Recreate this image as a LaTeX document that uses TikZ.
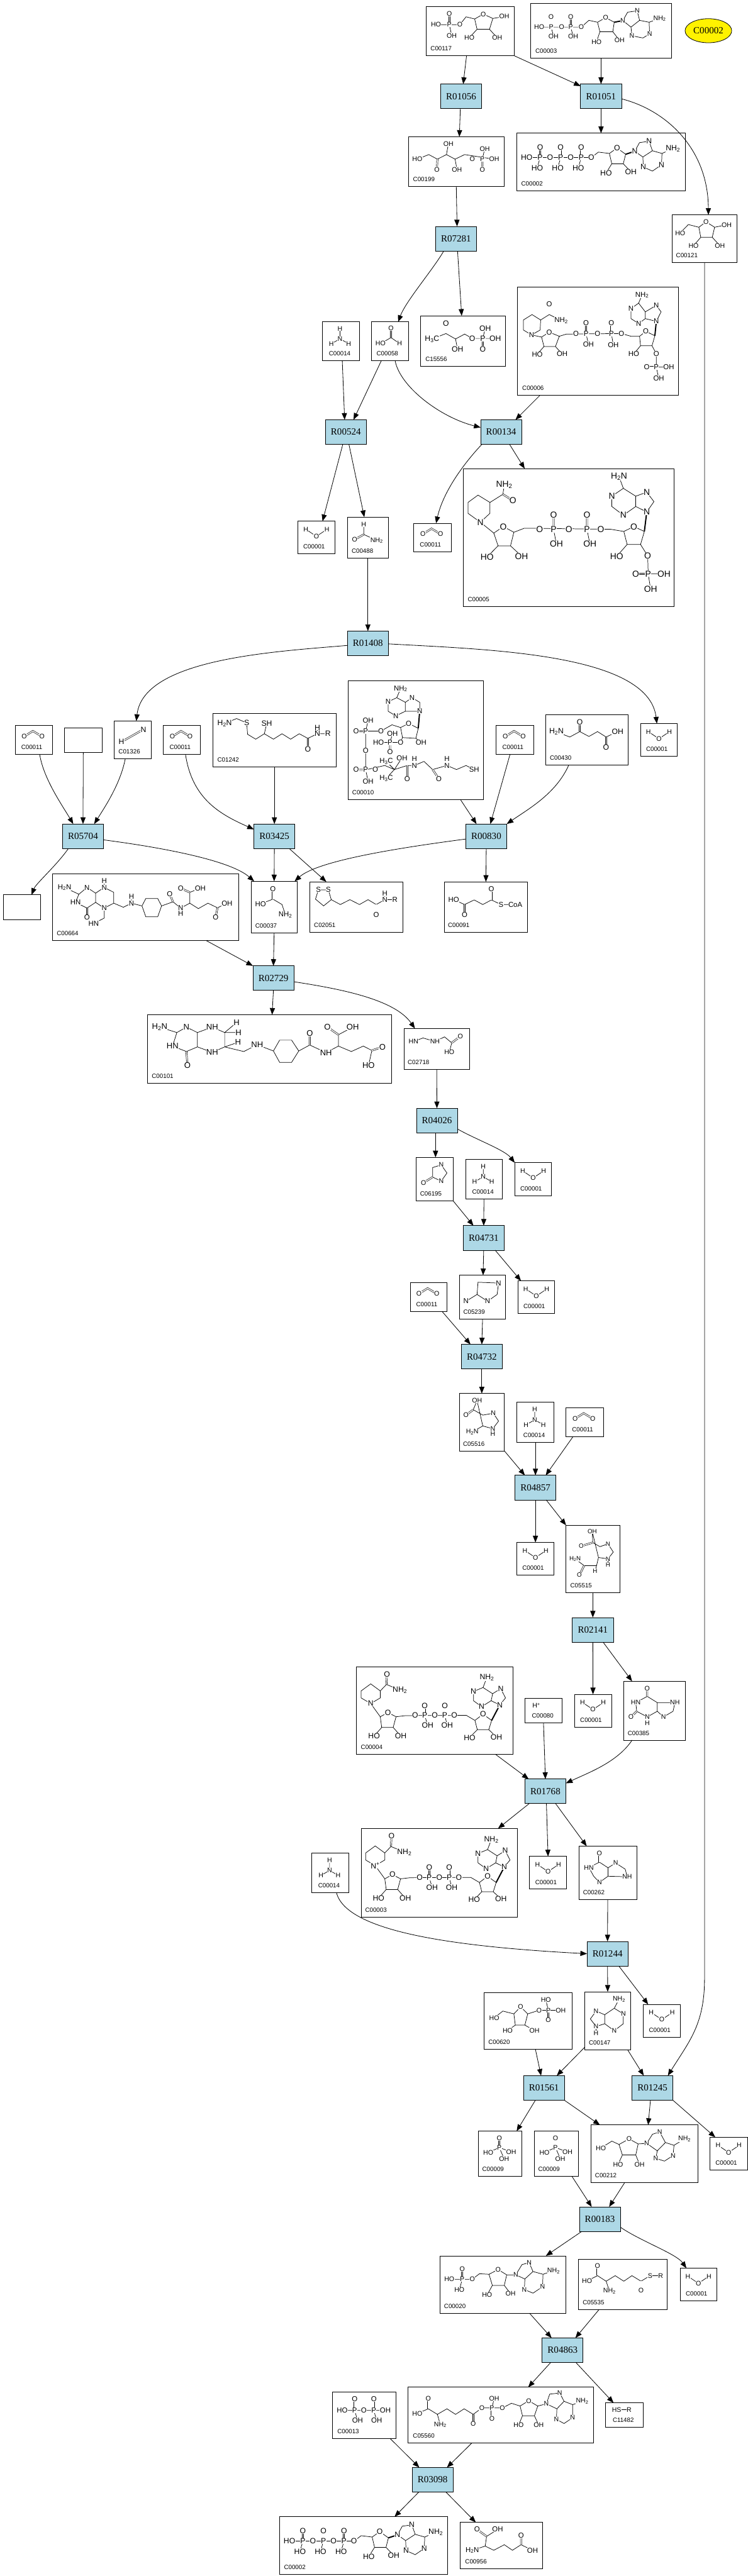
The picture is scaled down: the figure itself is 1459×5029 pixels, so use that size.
\documentclass[tikz,border=0pt]{standalone}
\usepackage{fontspec}
\setmainfont{Liberation Serif}
\setsansfont{Liberation Sans}
\usetikzlibrary{shapes.geometric, arrows.meta, positioning}
\definecolor{lightblue}{HTML}{ADD8E6}
\newcommand{\cid}[4][8.4]{\parbox[b][#3pt][b]{#2pt}{\hspace*{#1pt}\raisebox{9.7pt}{#4}}}
\newcommand{\atoms}[2][13]{\foreach \x/\y/\t [count=\i] in {#2} \node (atom\i) [atom, font=\sffamily\fontsize{#1}{#1}\selectfont] at (\x,\y) {\t};}
\newcommand{\sbs}[1]{\textsubscript{#1}}
\tikzset{
    reaction/.style = {rectangle, draw, fill=lightblue, line width=1pt, minimum width=80pt, minimum height=48pt, inner sep=0pt, outer sep=0pt, font=\rmfamily\fontsize{18.5}{20}\selectfont},
    compound/.style = {rectangle, draw, line width=1pt, inner sep=0pt, outer sep=0pt, font=\sffamily\fontsize{12}{14}\selectfont},
    query/.style = {ellipse, draw, fill=yellow, line width=1pt, minimum width=91pt, minimum height=47pt, inner sep=0pt, outer sep=0pt, font=\rmfamily\fontsize{18.5}{20}\selectfont},
    arrow/.style = {line width=1pt, ->, >={Triangle[length=13pt,width=10pt]}},
    atom/.style = {fill=white, inner sep=.5pt},
    bond/.style = {line width=.9pt},
    dbl/.style = {double, double distance=1.8pt, line width=.8pt},
    wedge/.style = {line width=2.4pt},
    panel/.style 2 args = {shift={(0,#1)}, x=.9329pt, y=-#2pt},
    centred/.style 2 args = {x=.9329pt, y=-.5294pt, shift={(-#1,-#2)}},
    watermol/.pic = {\begin{scope}[centred={662}{414.5}]
        \draw [bond] (640,384) -- (662,410) -- (684,384);
        \atoms{640/384/H, 662/410/O, 684/384/H}
    \end{scope}},
    co2mol/.pic = {\begin{scope}[centred={905}{415}]
        \draw [dbl] (885,402) -- (903,382) -- (922,402);
        \atoms{885/402/O, 922/402/O}
    \end{scope}},
    nh3mol/.pic = {\begin{scope}[centred={712.5}{1258.5}]
        \draw [bond] (711,1212) -- (711,1250) (693,1268) -- (711,1250) -- (729,1268);
        \atoms{711/1212/H, 711/1250/N, 693/1268/H, 729/1268/H}
    \end{scope}},
    phosmol/.pic = {\begin{scope}[x=.9329pt, y=-.5415pt, shift={(-1047,-44)}]
        \draw [dbl] (1045,-11) -- (1045,22);
        \draw [bond] (1022,40) -- (1045,22) -- (1070,38) (1045,22) -- (1055,62);
        \atoms{1045/-11/O, 1045/22/P, 1022/40/HO, 1070/38/OH, 1055/62/OH}
    \end{scope}},
    atpmol/.pic = {\begin{scope}[centred={1257.5}{596}]
        \draw [bond] (1102,580) -- (1237,580) -- (1252,560) -- (1275,565) -- (1291,545) -- (1309,568) -- (1304,603) -- (1280,603) -- (1275,565);
        \draw [bond] (1130,580) -- (1124,618) (1173,580) -- (1167,618) (1216,580) -- (1210,618) (1280,603) -- (1268,637) (1304,603) -- (1320,633);
        \draw [dbl] (1130,543) -- (1130,580) (1173,543) -- (1173,580) (1216,543) -- (1216,580);
        \draw [wedge] (1309,568) -- (1328,557);
        \draw [bond] (1328,557) -- (1338,525) -- (1358,520) -- (1365,555) -- (1345,578) -- (1328,557) (1345,578) -- (1346,615) -- (1365,630) -- (1384,607) -- (1385,565) -- (1365,555) (1385,565) -- (1408,547);
        \atoms[15]{1102/580/HO, 1130/580/P, 1151/580/O, 1173/580/P, 1194/580/O, 1216/580/P, 1237/580/O, 1130/543/O, 1173/543/O, 1216/543/O, 1124/618/HO, 1167/618/HO, 1210/618/HO, 1291/545/O, 1268/637/HO, 1320/633/OH, 1328/557/N, 1358/520/N, 1346/615/N, 1384/607/N, 1408/547/NH\sbs{2}}
    \end{scope}},
    nadmol/.pic = {\begin{scope}[x=.9329pt, y=-.5485pt, shift={(-919,-610.5)}]
        \draw [bond] (785,515) -- (805,540) -- (805,565) -- (785,585) -- (765,565) -- (765,540) -- cycle (805,540) -- (818,517) -- (846,537);
        \draw [dbl] (818,517) -- (819,480);
        \draw [bond] (785,585) -- (805,632) -- (821,617) -- (838,632) -- (832,670) -- (808,670) -- (805,632) (808,670) -- (792,701) (832,670) -- (848,701);
        \draw [bond] (838,632) -- (858,628) -- (985,627) -- (1003,645) -- (1020,623) -- (1038,645) -- (1032,678) -- (1008,678) -- (1003,645) (1008,678) -- (992,706) (1032,678) -- (1048,704);
        \draw [bond] (898,627) -- (904,662) (940,627) -- (945,662);
        \draw [dbl] (898,592) -- (898,627) (940,592) -- (940,627);
        \draw [wedge] (1038,645) -- (1055,590);
        \draw [bond] (1055,590) -- (1037,575) -- (1017,596) -- (1000,575) -- (1000,542) -- (1020,528) -- (1040,550) -- (1037,575) (1040,550) -- (1057,532) -- (1067,565) -- (1055,590) (1020,528) -- (1028,492);
        \atoms[15]{846/537/NH\sbs{2}, 819/480/O, 785/585/#1, 821/617/O, 792/701/HO, 848/701/OH, 878/627/O, 898/627/P, 898/592/O, 904/662/OH, 919/627/O, 940/627/P, 940/592/O, 945/662/OH, 960/627/O, 1020/623/O, 992/706/HO, 1048/704/OH, 1055/590/N, 1017/596/N, 1000/542/N, 1057/532/N, 1028/492/NH\sbs{2}}
    \end{scope}}
}
\begin{document}
\begin{tikzpicture}[x=1pt, y=-1pt, node distance=100pt]
\useasboundingbox (0,0) rectangle (1459,5029);
% reactions and compounds
\node (c00117) [compound] at (918,61) {\cid{172}{96}{C00117}};
\node (c00003a) [compound, right of=c00117, xshift=155, yshift=1] {\cid[10]{276}{106}{C00003}};
\node (c00002y) [query, right of=c00003a, xshift=109.5] {C00002};
\node (r01056) [reaction, below of=c00117, xshift=-18, yshift=-27] {R01056};
\node (r01051) [reaction, right of=r01056, xshift=173] {R01051};
\node (c00199) [compound, below of=r01056, xshift=-9.5, yshift=-27.5] {\cid[9.3]{187}{97}{C00199}};
\node (c00002a) [compound, below of=r01051, yshift=-28] {\cid[9.3]{330}{112}{C00002}};
\node (r07281) [reaction, below of=c00199, xshift=-.5, yshift=-50.5] {R07281};
\node (c00121) [compound, right of=r07281, xshift=385] {\cid[7.5]{126}{93}{C00121}};
\node (c15556) [compound, below of=r07281, xshift=14, yshift=-100] {\cid[9.3]{166}{99}{C15556}};
\node (c00058) [compound, left of=c15556, xshift=-43] {\cid[10]{72}{75}{C00058}};
\node (c00014a) [compound, left of=c00058, xshift=4] {\cid[13]{72}{77}{C00014}};
\node (c00006) [compound, right of=c15556, xshift=163] {\cid[9.3]{314}{211}{C00006}};
\node (r00524) [reaction, below of=c00014a, xshift=10, yshift=-77.5] {R00524};
\node (r00134) [reaction, right of=r00524, xshift=203] {R00134};
\node (c00001a) [compound, below of=r00524, xshift=-57.5, yshift=-106] {\cid[11]{73}{64}{C00001}};
\node (c00488) [compound, right of=c00001a, xshift=.5] {\cid{80}{80}{C00488}};
\node (c00011a) [compound, right of=c00488, xshift=26] {\cid[12]{73}{56}{C00011}};
\node (c00005) [compound, right of=c00011a, xshift=166] {\cid{411}{269}{C00005}};
\node (r01408) [reaction, below of=c00488, yshift=-106.5] {R01408};
\node (c00010) [compound, below of=r01408, xshift=94, yshift=-88.6] {\cid[7.5]{264}{232}{C00010}};
\node (c01242) [compound, left of=c00010, xshift=-176.5] {\cid[9.3]{241}{104}{C01242}};
\node (c00011b) [compound, left of=c01242, xshift=-80.5] {\cid[12]{72}{56}{C00011}};
\node (c01326) [compound, left of=c00011b, xshift=4] {\cid{72}{74}{C01326}};
\node (blanka) [compound, left of=c01326, xshift=3.5] {\cid{73}{48}{}};
\node (c00011c) [compound, left of=blanka, xshift=3.5] {\cid[12]{73}{56}{C00011}};
\node (c00011d) [compound, right of=c00010, xshift=93] {\cid[12]{73}{56}{C00011}};
\node (c00430) [compound, right of=c00011d, xshift=40] {\cid{160.5}{98}{C00430}};
\node (c00001b) [compound, right of=c00430, xshift=41] {\cid[11]{72}{64}{C00001}};
\node (r05704) [reaction, below of=blanka, xshift=-.5, yshift=-88] {R05704};
\node (r03425) [reaction, below of=c01242, yshift=-88] {R03425};
\node (r00830) [reaction, right of=r03425, xshift=313.5] {R00830};
\node (c00037) [compound, below of=r03425, xshift=-.5, yshift=-38.4] {\cid{90}{101}{C00037}};
\node (c00664) [compound, left of=c00037, xshift=-151] {\cid{363}{131}{C00664}};
\node (blankb) [compound, left of=c00664, xshift=-141] {\cid{73}{48}{}};
\node (c02051) [compound, right of=c00037, xshift=60.5] {\cid{182}{99}{C02051}};
\node (c00091) [compound, right of=c02051, xshift=152.8] {\cid[7.5]{163}{99}{C00091}};
\node (r02729) [reaction, below of=c00037, xshift=-1.4, yshift=-38.6] {R02729};
\node (c00101) [compound, below of=r02729, xshift=-7.6, yshift=-38.4] {\cid{476}{134}{C00101}};
\node (c02718) [compound, right of=c00101, xshift=226.3] {\cid[7.5]{128}{80}{C02718}};
\node (r04026) [reaction, below of=c02718, xshift=.4, yshift=-39.5] {R04026};
\node (c00014b) [compound, below of=r04026, xshift=91.8, yshift=-14.5] {\cid[13]{72}{77}{C00014}};
\node (c06195) [compound, left of=c00014b, xshift=4] {\cid[7.5]{72}{85}{C06195}};
\node (c00001c) [compound, right of=c00014b, xshift=-3.9] {\cid[11]{72}{64}{C00001}};
\node (r04731) [reaction, below of=c00014b, xshift=-.5, yshift=-14.8] {R04731};
\node (c05239) [compound, below of=r04731, xshift=-2.2, yshift=-15.7] {\cid[7.5]{90}{86}{C05239}};
\node (c00011e) [compound, left of=c05239, xshift=-5.4] {\cid[12]{72}{56}{C00011}};
\node (c00001d) [compound, right of=c05239, xshift=4.9] {\cid[11]{72}{64}{C00001}};
\node (r04732) [reaction, below of=c05239, xshift=-1.5, yshift=-16.1] {R04732};
\node (c05516) [compound, below of=r04732, yshift=-27.8] {\cid[7.5]{88}{112}{C05516}};
\node (c00014c) [compound, right of=c05516, xshift=4.7] {\cid[13]{73}{78}{C00014}};
\node (c00011f) [compound, right of=c00014c, xshift=-4] {\cid[12]{73}{56}{C00011}};
\node (r04857) [reaction, below of=c00014c, yshift=-27.8] {R04857};
\node (c00001e) [compound, below of=r04857, yshift=-39] {\cid[11]{73}{64}{C00001}};
\node (c05515) [compound, right of=c00001e, xshift=12] {\cid{104.5}{131}{C05515}};
\node (r02141) [reaction, below of=c05515, yshift=-38.6] {R02141};
\node (c00001f) [compound, below of=r02141, xshift=.3, yshift=-57.9] {\cid[11]{72}{64}{C00001}};
\node (c00080) [compound, left of=c00001f, xshift=3.4] {\cid[14]{73}{48}{C00080}};
\node (c00004) [compound, left of=c00080, xshift=-112.2] {\cid{305}{171}{C00004}};
\node (c00385) [compound, right of=c00001f, xshift=20.3] {\cid[7.5]{120}{115}{C00385}};
\node (r01768) [reaction, below of=c00080, xshift=3.7, yshift=-57.4] {R01768};
\node (c00001g) [compound, below of=r01768, xshift=5.2, yshift=-59] {\cid[11]{72}{64}{C00001}};
\node (c00003b) [compound, left of=c00001g, xshift=-112.3] {\cid[7.5]{304}{173}{C00003}};
\node (c00014d) [compound, left of=c00003b, xshift=-112.7] {\cid[13]{73}{77}{C00014}};
\node (c00262) [compound, right of=c00001g, xshift=16.4] {\cid{113}{104}{C00262}};
\node (r01244) [reaction, below of=c00262, xshift=-.3, yshift=-58] {R01244};
\node (c00147) [compound, below of=r01244, xshift=.3, yshift=-31] {\cid{90}{113.5}{C00147}};
\node (c00620) [compound, left of=c00147, xshift=-55.2] {\cid{172}{110}{C00620}};
\node (c00001h) [compound, right of=c00147, xshift=5.6] {\cid[11]{72}{64}{C00001}};
\node (r01561) [reaction, below of=c00620, xshift=30.8, yshift=-31.1] {R01561};
\node (r01245) [reaction, right of=r01561, xshift=111.8] {R01245};
\node (c00009b) [compound, below of=r01561, xshift=24.4, yshift=-28.2] {\cid[7.5]{86}{88}{C00009}};
\node (c00009a) [compound, left of=c00009b, xshift=-9.7] {\cid[7.5]{85}{88}{C00009}};
\node (c00212) [compound, right of=c00009b, xshift=71.5] {\cid{209}{112}{C00212}};
\node (c00001i) [compound, right of=c00212, xshift=64.5] {\cid[11]{73}{64}{C00001}};
\node (r00183) [reaction, below of=c00009b, xshift=84.8, yshift=-27.9] {R00183};
\node (c05535) [compound, below of=r00183, xshift=44.8, yshift=-27.6] {\cid{173.5}{99}{C05535}};
\node (c00020) [compound, left of=c05535, xshift=-134.2] {\cid{246}{112}{C00020}};
\node (c00001j) [compound, right of=c05535, xshift=47.4] {\cid[11]{71}{64}{C00001}};
\node (r04863) [reaction, below of=c05535, xshift=-117.6, yshift=-28.3] {R04863};
\node (c05560) [compound, below of=r04863, xshift=-120.8, yshift=-26.7] {\cid[9.3]{361}{109}{C05560}};
\node (c00013) [compound, left of=c05560, xshift=-165.9] {\cid[9.3]{124}{91}{C00013}};
\node (c11482) [compound, right of=c05560, xshift=141.2] {\cid[14]{73}{48}{C11482}};
\node (r03098) [reaction, below of=c05560, xshift=-132.9, yshift=-26.2] {R03098};
\node (c00002b) [compound, below of=r03098, xshift=-134.3, yshift=-28.2] {\cid{328}{112}{C00002}};
\node (c00956) [compound, right of=c00002b, xshift=168.6] {\cid[9.3]{160}{90}{C00956}};

% structures that come back
\foreach \spot in {c00001a,c00001b,c00001c,c00001d,c00001e,c00001f,c00001g,c00001h,c00001i,c00001j}
    \pic at (\spot) {watermol};
\foreach \spot in {c00011a,c00011b,c00011c,c00011d,c00011e,c00011f}
    \pic at (\spot) {co2mol};
\foreach \spot in {c00014a,c00014b,c00014c,c00014d}
    \pic at (\spot) {nh3mol};
\foreach \spot in {c00009a,c00009b}
    \pic at (\spot) {phosmol};
\foreach \spot in {c00002a,c00002b}
    \pic at (\spot) {atpmol};
\pic at (c00003b) {nadmol={N\textsuperscript{+}}};
\pic at (c00004) {nadmol={N}};

% top part
\begin{scope}[panel={0}{.5294}]
\draw [bond] (912,91) -- (962,91) -- (975,62) -- (993,70) -- (1011,52) -- (1031,68) -- (1024,108) -- (998,108) -- (993,70) (940,91) -- (945,131) (1031,68) -- (1055,61) (998,108) -- (982,139) (1024,108) -- (1040,139);
\draw [dbl] (940,51) -- (940,91);
\atoms{940/51/O, 912/91/HO, 940/91/P, 962/91/O, 945/131/OH, 1011/52/O, 1055/61/OH, 982/139/HO, 1040/139/OH}
\draw [bond] (1128,100) -- (1216,100) -- (1232,75) -- (1250,82) -- (1267,65) -- (1285,82) -- (1282,117) -- (1255,117) -- (1250,82) (1153,100) -- (1158,134) (1194,100) -- (1199,134) (1255,117) -- (1248,154) (1282,117) -- (1296,149);
\draw [dbl] (1153,62) -- (1153,100) (1194,62) -- (1194,100);
\draw [wedge] (1285,82) -- (1303,76);
\draw [bond] (1303,76) -- (1313,45) -- (1333,40) -- (1338,75) -- (1320,100) -- (1303,76) (1320,100) -- (1322,132) -- (1345,140) -- (1359,125) -- (1358,82) -- (1338,75) (1358,82) -- (1380,68);
\atoms{1128/100/HO, 1153/100/P, 1175/100/O, 1194/100/P, 1216/100/O, 1153/62/O, 1194/62/O, 1158/134/OH, 1199/134/OH, 1267/65/O, 1248/154/HO, 1296/149/OH, 1303/76/N, 1333/40/N, 1322/132/N, 1359/125/N, 1380/68/NH\sbs{2}}
\draw [bond] (873,587) -- (897,570) -- (915,587) -- (934,570) -- (952,587) -- (972,570) -- (1034,587) (1009,587) -- (1014,549) (934,570) -- (938,530) (952,587) -- (956,625);
\draw [dbl] (915,587) -- (914,625) (1009,587) -- (1009,625);
\atoms{873/587/HO, 914/625/O, 938/530/OH, 956/625/OH, 988/587/O, 1009/587/P, 1034/587/OH, 1014/549/OH, 1009/625/O}
\draw [bond] (1423,859) -- (1440,828) -- (1462,838) -- (1477,818) -- (1495,838) -- (1490,875) -- (1466,875) -- (1462,838) (1495,838) -- (1520,829) (1466,875) -- (1451,906) (1490,875) -- (1506,906);
\atoms{1477/818/O, 1520/829/OH, 1423/859/HO, 1451/906/HO, 1506/906/OH}
\draw [bond] (796,1267) -- (818,1245) -- (836,1267);
\draw [dbl] (818,1211) -- (818,1245);
\atoms{818/1211/O, 796/1267/HO, 836/1267/H}
\draw [bond] (904,1250) -- (933,1230) -- (953,1250) -- (972,1232) -- (988,1248) -- (1036,1248) (953,1250) -- (957,1287) (1010,1248) -- (1015,1212);
\draw [dbl] (933,1192) -- (933,1230) (1010,1248) -- (1010,1287);
\atoms[15]{904/1250/H\sbs{3}C, 933/1192/O, 957/1287/OH, 988/1248/O, 1010/1248/P, 1036/1248/OH, 1015/1212/OH, 1010/1287/O}
\draw [bond] (1113,1160) -- (1131,1180) -- (1130,1217) -- (1112,1235) -- (1095,1217) -- (1095,1180) -- cycle (1131,1180) -- (1149,1160) -- (1174,1182);
\draw [dbl] (1149,1122) -- (1149,1160) (1226,1192) -- (1226,1230) (1279,1192) -- (1279,1230) (1353,1354) -- (1373,1354);
\draw [bond] (1112,1235) -- (1133,1243) -- (1149,1225) -- (1170,1240) -- (1162,1278) -- (1138,1278) -- (1133,1243) (1138,1278) -- (1124,1306) (1162,1278) -- (1176,1305) (1170,1240) -- (1185,1232) -- (1300,1230) -- (1320,1240) -- (1338,1240) -- (1351,1222) -- (1370,1238) -- (1364,1275) -- (1340,1275) -- (1338,1240) (1340,1275) -- (1326,1305) (1364,1275) -- (1373,1305) -- (1373,1354) -- (1399,1354) (1373,1354) -- (1378,1395) (1226,1230) -- (1231,1270) (1279,1230) -- (1283,1272);
\draw [wedge] (1370,1238) -- (1373,1185);
\draw [bond] (1373,1185) -- (1383,1150) -- (1373,1126) -- (1350,1150) -- (1350,1175) -- (1373,1185) (1350,1175) -- (1336,1193) -- (1320,1175) -- (1320,1138) -- (1336,1118) -- (1350,1150) (1336,1118) -- (1343,1088);
\atoms[14]{1149/1122/O, 1174/1182/NH\sbs{2}, 1112/1235/N, 1149/1225/O, 1124/1306/HO, 1176/1305/OH, 1205/1230/O, 1226/1230/P, 1226/1192/O, 1231/1270/OH, 1250/1230/O, 1279/1230/P, 1279/1192/O, 1283/1272/OH, 1300/1230/O, 1351/1222/O, 1326/1305/HO, 1373/1305/O, 1373/1354/P, 1353/1354/O, 1399/1354/OH, 1378/1395/OH, 1373/1185/N, 1373/1126/N, 1336/1193/N, 1320/1138/N, 1343/1088/NH\sbs{2}}
\end{scope}

% second part
\begin{scope}[panel={830}{.5294}]
\draw [bond] (761,367) -- (761,403) -- (788,425);
\draw [dbl] (761,403) -- (742,422);
\atoms{761/367/H, 742/422/O, 788/425/NH\sbs{2}}
\draw [bond] (979,285) -- (1000,258) -- (1025,285) -- (1025,325) -- (1005,358) -- (979,325) -- cycle (1025,285) -- (1052,255) -- (1055,220);
\draw [dbl] (1052,255) -- (1073,278) (1158,332) -- (1158,384) (1228,332) -- (1228,384);
\draw [bond] (1005,358) -- (1033,398) -- (1053,374) -- (1075,395) -- (1068,445) -- (1042,445) -- (1033,398) (1042,445) -- (1019,486) (1068,445) -- (1091,483) (1075,395) -- (1097,380) -- (1278,384) -- (1305,392) -- (1326,374) -- (1348,392) -- (1340,440) -- (1312,440) -- (1305,392) (1312,440) -- (1290,484) (1340,440) -- (1355,482) -- (1356,548) -- (1389,548) (1356,548) -- (1361,604) (1158,384) -- (1164,438) (1228,384) -- (1234,438);
\draw [dbl] (1330,548) -- (1356,548);
\draw [wedge] (1348,392) -- (1353,320);
\draw [bond] (1353,320) -- (1330,300) -- (1304,332) -- (1280,300) -- (1280,262) -- (1304,233) -- (1330,262) -- (1330,300) (1330,262) -- (1353,247) -- (1368,282) -- (1353,320) (1304,233) -- (1295,190);
\atoms[17]{1055/220/NH\sbs{2}, 1073/278/O, 1005/358/N, 1053/374/O, 1019/486/HO, 1091/483/OH, 1129/384/O, 1158/384/P, 1158/332/O, 1164/438/OH, 1190/384/O, 1228/384/P, 1228/332/O, 1234/438/OH, 1257/384/O, 1326/374/O, 1290/484/HO, 1355/482/O, 1356/548/P, 1330/548/O, 1389/548/OH, 1361/604/OH, 1353/320/N, 1304/332/N, 1280/262/N, 1353/247/N, 1295/190/H\sbs{2}N}
\draw [dbl] (254,1168) -- (300,1122);
\atoms[15]{254/1168/H, 300/1122/N}
\draw [bond] (470,1100) -- (495,1082) -- (516,1098) -- (518,1140) -- (535,1158) -- (553,1138) -- (572,1158) -- (590,1138) -- (608,1158) -- (626,1138) -- (644,1155) -- (664,1138) -- (686,1138) (553,1138) -- (558,1100) (664,1138) -- (664,1115);
\draw [dbl] (644,1155) -- (644,1194);
\atoms[15]{470/1100/H\sbs{2}N, 516/1098/S, 558/1100/SH, 644/1194/O, 664/1138/N, 664/1115/H, 686/1138/R}
\draw [bond] (838,972) -- (830,1005) -- (812,1020) -- (812,1055) -- (828,1072) -- (848,1055) -- (848,1022) -- (830,1005) (848,1022) -- (862,1005) -- (878,1022) -- (878,1055) -- (848,1055);
\draw [wedge] (878,1055) -- (875,1118);
\draw [bond] (875,1118) -- (855,1100) -- (838,1115) -- (842,1152) -- (870,1155) -- (875,1118) (870,1155) -- (881,1170) (842,1152) -- (838,1170) -- (792,1170) (816,1170) -- (821,1138) (838,1115) -- (820,1105) -- (797,1128) -- (765,1128) -- (770,1090) (765,1128) -- (765,1271) -- (770,1313) (765,1271) -- (805,1255) -- (825,1270) -- (841,1227) (825,1270) -- (808,1240) (825,1270) -- (808,1302) (825,1270) -- (852,1255) -- (867,1255) -- (887,1240) -- (905,1270) -- (935,1255) -- (955,1270) -- (975,1255) -- (992,1271);
\draw [dbl] (745,1128) -- (765,1128) (745,1271) -- (765,1271) (816,1170) -- (816,1204) (852,1255) -- (852,1304) (918,1304) -- (905,1270);
\atoms[14]{838/972/NH\sbs{2}, 812/1020/N, 862/1005/N, 828/1072/N, 878/1055/N, 855/1100/O, 797/1128/O, 765/1128/P, 745/1128/O, 770/1090/OH, 765/1200/O, 765/1271/P, 745/1271/O, 770/1313/OH, 785/1271/O, 808/1240/H\sbs{3}C, 808/1302/H\sbs{3}C, 841/1227/OH, 852/1304/O, 867/1255/N, 867/1230/H, 918/1304/O, 935/1255/N, 935/1230/H, 992/1271/SH, 821/1138/OH, 792/1170/HO, 816/1170/P, 838/1170/O, 816/1204/O, 881/1170/OH}
\draw [bond] (1164,1131) -- (1192,1150) -- (1213,1130) -- (1232,1148) -- (1250,1130) -- (1268,1150) -- (1292,1130);
\draw [dbl] (1213,1095) -- (1213,1130) (1268,1150) -- (1268,1188);
\atoms[15]{1164/1131/H\sbs{2}N, 1213/1095/O, 1292/1130/OH, 1268/1188/O}
\end{scope}

% third part
\begin{scope}[panel={1660}{.5294}]
\draw [bond] (135,137) -- (165,162) -- (182,137) -- (200,158) -- (218,137) -- (238,155) -- (238,195) -- (218,213) -- (200,192) -- (200,158) (218,137) -- (218,112) (165,162) -- (158,192) -- (182,213) -- (200,192) (218,213) -- (218,250) -- (196,270) (238,195) -- (258,210) -- (275,195) -- (297,205) (275,195) -- (275,170);
\draw [dbl] (182,213) -- (182,248);
\draw [bond] (297,205) -- (305,178) -- (330,178) -- (338,205) -- (330,245) -- (305,245) -- cycle (338,205) -- (362,190) -- (378,213) -- (397,195) -- (397,155) -- (419,140) (378,213) -- (378,233) (397,195) -- (415,215) -- (435,195) -- (455,212) -- (475,195);
\draw [dbl] (355,162) -- (362,190) (378,140) -- (397,155) (455,212) -- (451,248);
\atoms[14]{135/137/H\sbs{2}N, 182/137/N, 158/192/HN, 182/248/O, 218/137/N, 218/112/H, 218/213/N, 196/270/HN, 275/195/N, 275/170/H, 355/162/O, 378/213/N, 378/233/H, 378/140/O, 419/140/OH, 451/248/O, 475/195/OH}
\draw [bond] (545,198) -- (571,180) -- (590,200) -- (597,238);
\draw [dbl] (571,142) -- (571,180);
\atoms[14]{571/142/O, 545/198/HO, 597/238/NH\sbs{2}}
\draw [bond] (666,146) -- (687,146) -- (693,182) -- (677,205) -- (660,180) -- cycle (693,182) -- (712,200) -- (732,182) -- (752,200) -- (770,182) -- (787,200) -- (805,182) -- (826,182) (805,182) -- (805,158);
\draw [dbl] (787,200) -- (787,238);
\atoms[14]{666/146/S, 687/146/S, 787/238/O, 805/182/N, 805/158/H, 826/182/R}
\draw [bond] (949,182) -- (972,200) -- (992,183) -- (1010,200) -- (1028,183) -- (1048,200) -- (1078,200);
\draw [dbl] (972,200) -- (972,238) (1028,143) -- (1028,183);
\atoms[14]{949/182/HO, 972/238/O, 1028/143/O, 1048/200/S, 1078/200/CoA}
\draw [bond] (334,652) -- (370,672) -- (390,652) -- (413,672) -- (444,652) -- (470,672) -- (470,725) -- (444,745) -- (413,725) -- (413,672) (370,672) -- (361,722) -- (390,742) -- (413,725) (470,672) -- (495,635) (470,672) -- (499,672) (470,725) -- (498,708) (470,725) -- (510,742) -- (538,717) -- (572,740);
\draw [dbl] (390,742) -- (392,792);
\draw [bond] (572,740) -- (585,700) -- (610,700) -- (625,740) -- (610,782) -- (585,782) -- cycle (625,740) -- (648,718) -- (682,746) -- (708,722) -- (708,680) -- (738,652) (708,722) -- (735,742) -- (760,722) -- (778,738) -- (771,793);
\draw [dbl] (648,675) -- (648,718) (685,652) -- (708,680) (778,738) -- (800,725);
\atoms[16]{334/652/H\sbs{2}N, 390/652/N, 361/722/HN, 392/792/O, 444/745/NH, 444/652/NH, 495/635/H, 499/672/H, 498/708/H, 538/717/NH, 648/675/O, 682/746/NH, 685/652/O, 738/652/OH, 800/725/O, 771/793/HO}
\draw [bond] (865,705) -- (885,692) -- (910,705) -- (930,688) -- (945,710) -- (940,745);
\draw [dbl] (945,710) -- (963,686);
\atoms{865/705/HN, 910/705/NH, 963/686/O, 940/745/HO}
\draw [bond] (923,1160) -- (905,1170) -- (905,1205) -- (923,1220) -- (935,1190) -- cycle;
\draw [dbl] (905,1205) -- (886,1226);
\atoms{923/1160/N, 886/1226/O, 923/1220/N}
\end{scope}

% fourth part
\begin{scope}[panel={2490}{.5294}]
\draw [bond] (1000,25) -- (1043,28) -- (1040,70) -- (1020,95) -- (998,70) -- cycle (998,70) -- (975,95);
\atoms[14]{1043/28/N, 1020/95/N, 975/95/N}
\draw [bond] (998,462) -- (990,495) -- (1010,515) -- (1032,508) -- (1043,537) -- (1031,565) -- (1010,555) -- cycle (1010,555) -- (988,577);
\draw [dbl] (990,495) -- (975,515);
\atoms{998/462/OH, 975/515/O, 1032/508/N, 1031/565/N, 1031/585/H, 988/577/H\sbs{2}N}
\draw [bond] (1239,945) -- (1240,985) -- (1255,1000) -- (1272,990) -- (1283,1020) -- (1272,1045) -- (1252,1040) -- cycle (1252,1040) -- (1248,1070) -- (1222,1070) -- (1203,1045) (1248,1070) -- (1245,1090) (1272,1045) -- (1272,1068);
\draw [dbl] (1240,985) -- (1216,998) (1222,1070) -- (1212,1105);
\atoms[12]{1239/945/OH, 1216/998/O, 1272/990/N, 1272/1045/N, 1272/1068/H, 1245/1090/H, 1203/1045/H\sbs{2}N, 1212/1105/O}
\end{scope}

% fifth part
\begin{scope}[panel={3320}{.5485}]
\node (hplus) [atom, font=\sffamily\fontsize{13}{13}\selectfont] at (1122,17) {H\textsuperscript{+}};
\draw [bond] (1354,-15) -- (1330,7) -- (1332,38) -- (1354,58) -- (1375,38) -- (1375,7) -- cycle (1375,7) -- (1412,7) -- (1408,38) -- (1388,58) -- (1375,38);
\draw [dbl] (1354,-44) -- (1354,-15) (1332,38) -- (1320,58);
\atoms{1354/-44/O, 1330/7/HN, 1320/58/O, 1354/58/N, 1354/80/H, 1388/58/N, 1412/7/NH}
\draw [bond] (1254,575) -- (1232,594) -- (1242,625) -- (1254,647) -- (1272,625) -- (1272,595) -- cycle (1272,595) -- (1288,578) -- (1308,600) -- (1312,627) -- (1272,625);
\draw [dbl] (1254,544) -- (1254,575);
\atoms{1254/544/O, 1232/594/HN, 1254/647/N, 1288/578/N, 1312/627/NH}
\draw [bond] (1034,1129) -- (1052,1105) -- (1075,1115) -- (1089,1090) -- (1104,1115) -- (1098,1155) -- (1078,1155) -- (1075,1115) (1078,1155) -- (1062,1174) (1098,1155) -- (1118,1174) (1104,1115) -- (1128,1102) -- (1173,1102) (1147,1102) -- (1142,1066);
\draw [dbl] (1147,1102) -- (1147,1137);
\atoms{1034/1129/HO, 1089/1090/O, 1062/1174/HO, 1118/1174/OH, 1128/1102/O, 1147/1102/P, 1173/1102/OH, 1142/1066/HO, 1147/1137/O}
\draw [bond] (1295,1063) -- (1285,1095) -- (1304,1115) -- (1304,1150) -- (1285,1175) -- (1265,1150) -- (1265,1118) -- (1285,1095) (1265,1118) -- (1247,1105) -- (1235,1133) -- (1247,1160) -- (1265,1150) (1247,1160) -- (1247,1183);
\atoms{1295/1063/NH\sbs{2}, 1247/1105/N, 1304/1115/N, 1285/1175/N, 1247/1160/N, 1247/1183/H}
\end{scope}

% last part
\begin{scope}[panel={4180}{.5415}]
\draw [bond] (1257,25) -- (1280,0) -- (1295,12) -- (1316,-8) -- (1335,10) -- (1330,50) -- (1302,50) -- (1295,12) (1302,50) -- (1293,84) (1330,50) -- (1338,84) (1335,10) -- (1353,8) -- (1365,-25) -- (1380,-33) -- (1392,5) -- (1375,35) -- (1353,8) (1375,35) -- (1372,62) -- (1390,72) -- (1408,52) -- (1410,15) -- (1392,5) (1410,15) -- (1432,-8);
\atoms{1257/25/HO, 1316/-8/O, 1293/84/HO, 1338/84/OH, 1353/8/N, 1380/-33/N, 1372/62/N, 1408/52/N, 1432/-8/NH\sbs{2}}
\draw [bond] (940,498) -- (988,498) -- (1003,478) -- (1023,480) -- (1042,463) -- (1060,482) -- (1055,520) -- (1030,520) -- (1023,480) (967,498) -- (961,536) (1030,520) -- (1019,555) (1055,520) -- (1068,550) (1060,482) -- (1079,482) -- (1092,445) -- (1107,438) -- (1115,470) -- (1098,497) -- (1079,482) (1098,497) -- (1097,535) -- (1115,548) -- (1135,525) -- (1136,480) -- (1115,470) (1136,480) -- (1158,467);
\draw [dbl] (967,462) -- (967,498);
\atoms{967/462/O, 967/498/P, 940/498/HO, 988/498/O, 961/536/HO, 1042/463/O, 1019/555/HO, 1068/550/OH, 1079/482/N, 1107/438/N, 1097/535/N, 1135/525/N, 1158/467/NH\sbs{2}}
\draw [bond] (1228,504) -- (1250,485) -- (1268,505) -- (1287,485) -- (1305,505) -- (1322,485) -- (1341,505) -- (1360,485) -- (1382,485) (1268,505) -- (1275,541);
\draw [dbl] (1250,449) -- (1250,485) (1341,505) -- (1341,539);
\atoms{1250/449/O, 1228/504/HO, 1275/541/NH\sbs{2}, 1341/539/O, 1360/485/S, 1382/485/R}
\draw [bond] (1290,968) -- (1316,968);
\atoms{1290/968/HS, 1316/968/R}
\draw [bond] (716,971) -- (806,971) (742,971) -- (748,1007) (782,971) -- (788,1007);
\draw [dbl] (742,930) -- (742,971) (782,930) -- (782,971);
\atoms[14]{742/930/O, 742/971/P, 716/971/HO, 748/1007/OH, 761/971/O, 782/971/P, 782/930/O, 806/971/OH, 788/1007/OH}
\draw [bond] (873,982) -- (896,965) -- (915,985) -- (935,965) -- (953,985) -- (971,965) -- (990,985) -- (1008,962) -- (1051,962) -- (1070,945) -- (1088,955) -- (1106,936) -- (1125,955) -- (1118,990) -- (1093,990) -- (1088,955) (915,985) -- (921,1022) (1029,962) -- (1034,927) (1093,990) -- (1085,1024) (1118,990) -- (1127,1024) (1125,955) -- (1143,947) -- (1150,912) -- (1171,908) -- (1180,938) -- (1165,965) -- (1143,947) (1165,965) -- (1164,1003) -- (1180,1018) -- (1198,997) -- (1198,950) -- (1180,938) (1198,950) -- (1218,938);
\draw [dbl] (896,928) -- (896,965) (990,985) -- (990,1019) (1029,962) -- (1029,1000);
\atoms{896/928/O, 873/982/HO, 921/1022/NH\sbs{2}, 990/1019/O, 1008/962/O, 1029/962/P, 1034/927/OH, 1029/1000/O, 1051/962/O, 1106/936/O, 1085/1024/HO, 1127/1024/OH, 1143/947/N, 1171/908/N, 1164/1003/N, 1198/997/N, 1218/938/NH\sbs{2}}
\draw [bond] (988,1475) -- (1015,1460) -- (1018,1425) -- (1041,1400) (1015,1460) -- (1033,1475) -- (1055,1455) -- (1072,1475) -- (1090,1455) -- (1114,1475);
\draw [dbl] (998,1400) -- (1018,1425) (1090,1422) -- (1090,1455);
\atoms[14]{998/1400/O, 1041/1400/OH, 988/1475/H\sbs{2}N, 1090/1422/O, 1114/1475/OH}
\end{scope}

% connectors
\draw [arrow] ([xshift=-7.5]c00117.south) -- ([xshift=4]r01056.north);
\draw [arrow] (c00117.south east) -- ([yshift=-4]r01051.north west);
\draw [arrow] (c00003a.south) -- (r01051.north);
\draw [arrow] ([xshift=-1.6]r01056.south) -- ([xshift=6]c00199.north);
\draw [arrow] (r01051.south) -- (c00002a.north);
\draw [arrow] ([yshift=-5]r01051.east) .. controls (1300,215) and (1382,290) .. ([xshift=7.5]c00121.north);
\draw [arrow] (c00199.south) -- ([xshift=2]r07281.north);
\draw [arrow] ([xshift=-24]r07281.south) .. controls (846,525) and (792,588) .. ([xshift=16]c00058.north);
\draw [arrow] ([xshift=3]r07281.south) -- ([xshift=-3]c15556.north);
\draw [arrow] ([xshift=3]c00014a.south) -- ([xshift=-2.4]r00524.north);
\draw [arrow] ([xshift=-16.5]c00058.south) -- ([xshift=15]r00524.north);
\draw [arrow] ([xshift=10]c00058.south) .. controls (780,755) and (860,815) .. ([yshift=-15]r00134.north west);
\draw [arrow] ([xshift=-113]c00006.south) -- ([xshift=28]r00134.north);
\draw [arrow] ([xshift=-6]r00524.south) -- ([xshift=12]c00001a.north);
\draw [arrow] ([xshift=6]r00524.south) -- ([xshift=-7]c00488.north);
\draw [arrow] ([xshift=-37.6]r00134.south) .. controls (905,905) and (865,960) .. ([xshift=7]c00011a.north);
\draw [arrow] ([xshift=16.5]r00134.south) -- ([xshift=-86]c00005.north);
\draw [arrow] (c00488.south) -- (r01408.north);
\draw [arrow] ([yshift=-4]r01408.west) .. controls (540,1272) and (280,1285) .. ([xshift=7]c01326.north);
\draw [arrow] ([yshift=-1]r01408.east) .. controls (950,1268) and (1265,1275) .. ([xshift=-4]c00001b.north);
\draw [arrow] ([xshift=11.4]c00011c.south) .. controls (85,1520) and (120,1570) .. ([xshift=-19]r05704.north);
\draw [arrow] (blanka.south) -- (r05704.north);
\draw [arrow] ([xshift=-14.6]c01326.south) .. controls (235,1530) and (205,1575) .. ([xshift=21.8]r05704.north);
\draw [arrow] ([xshift=7]c00011b.south) .. controls (375,1560) and (430,1590) .. ([yshift=13.6]r03425.west);
\draw [arrow] (c01242.south) -- (r03425.north);
\draw [arrow] ([xshift=86.4]c00010.south) -- ([xshift=-19]r00830.north);
\draw [arrow] ([xshift=-9.6]c00011d.south) -- ([xshift=8]r00830.north);
\draw [arrow] ([xshift=-35]c00430.south) .. controls (1085,1550) and (1030,1580) .. (r00830.north east);
\draw [arrow] ([xshift=-28.6]r05704.south) .. controls (110,1690) and (70,1725) .. ([xshift=18.6]blankb.north);
\draw [arrow] ([yshift=-7]r05704.east) .. controls (320,1655) and (450,1680) .. ([xshift=-39]c00037.north);
\draw [arrow] (r03425.south) -- (c00037.north);
\draw [arrow] ([xshift=29]r03425.south) -- ([xshift=-58.5]c02051.north);
\draw [arrow] ([yshift=-5.4]r00830.west) .. controls (780,1655) and (620,1680) .. ([xshift=40]c00037.north);
\draw [arrow] (r00830.south) -- (c00091.north);
\draw [arrow] ([xshift=119]c00664.south) -- (r02729.north west);
\draw [arrow] (c00037.south) -- (r02729.north);
\draw [arrow] (r02729.south) -- ([xshift=5]c00101.north);
\draw [arrow] ([yshift=-7]r02729.east) .. controls (660,1930) and (770,1950) .. ([xshift=-42.5]c02718.north);
\draw [arrow] (c02718.south) -- (r04026.north);
\draw [arrow] ([xshift=-2.7]r04026.south) -- ([xshift=1.5]c06195.north);
\draw [arrow] ([yshift=-16.5]r04026.east) .. controls (930,2225) and (985,2245) .. (c00001c.north west);
\draw [arrow] (c06195.south east) -- ([xshift=-20]r04731.north);
\draw [arrow] (c00014b.south) -- (r04731.north);
\draw [arrow] (r04731.south) -- ([xshift=1]c05239.north);
\draw [arrow] ([xshift=22.5]r04731.south) -- ([xshift=-30]c00001d.north);
\draw [arrow] ([xshift=26.6]c00011e.south) -- ([xshift=-22]r04732.north);
\draw [arrow] (c05239.south) -- (r04732.north);
\draw [arrow] (r04732.south) -- (c05516.north);
\draw [arrow] (c05516.south east) -- ([xshift=-20.6]r04857.north);
\draw [arrow] (c00014c.south) -- (r04857.north);
\draw [arrow] ([xshift=-22.5]c00011f.south) -- ([xshift=20]r04857.north);
\draw [arrow] (r04857.south) -- (c00001e.north);
\draw [arrow] ([xshift=21]r04857.south) -- (c05515.north west);
\draw [arrow] (c05515.south) -- (r02141.north);
\draw [arrow] (r02141.south) -- (c00001f.north);
\draw [arrow] ([xshift=20]r02141.south) -- ([xshift=-44]c00385.north);
\draw [arrow] ([xshift=119]c00004.south) -- ([xshift=-32.6]r01768.north);
\draw [arrow] (c00080.south) -- (r01768.north);
\draw [arrow] ([xshift=-44]c00385.south) .. controls (1205,3440) and (1150,3460) .. ([yshift=15.7]r01768.east);
\draw [arrow] ([xshift=-31.7]r01768.south) -- ([xshift=114.7]c00003b.north);
\draw [arrow] ([xshift=2]r01768.south) -- (c00001g.north);
\draw [arrow] ([xshift=20]r01768.south) -- ([xshift=-41]c00262.north);
\draw [arrow] (c00262.south) -- (r01244.north);
\draw [arrow] ([xshift=12]c00014d.south) .. controls (675,3770) and (880,3800) .. (r01244.west);
\draw [arrow] (r01244.south) -- (c00147.north);
\draw [arrow] ([xshift=22]r01244.south) -- ([xshift=-26.6]c00001h.north);
\draw [arrow] ([xshift=14]c00620.south) -- ([xshift=-5.6]r01561.north);
\draw [arrow] ([yshift=5]c00147.south west) -- ([xshift=25]r01561.north);
\draw [arrow] ([xshift=39]c00147.south) -- ([xshift=-17]r01245.north);
\draw [arrow] (c00121.south) -- ++(0,3350) .. controls ++(0,90) and (1345,3985) .. ([xshift=30]r01245.north);
\draw [arrow] ([xshift=-16.8]r01561.south) -- ([xshift=32]c00009a.north);
\draw [arrow] (r01561.south east) -- ([xshift=-86.7]c00212.north);
\draw [arrow] ([xshift=-4]r01245.south) -- ([xshift=7.5]c00212.north);
\draw [arrow] (r01245.south east) -- ([xshift=-26]c00001i.north);
\draw [arrow] ([xshift=30]c00009b.south) -- ([xshift=-16]r00183.north);
\draw [arrow] ([xshift=-38]c00212.south) -- ([xshift=18]r00183.north);
\draw [arrow] ([xshift=-35.5]r00183.south) -- ([xshift=84]c00020.north);
\draw [arrow] ([yshift=-15.7]r00183.east) .. controls (1250,4375) and (1320,4400) .. ([xshift=-23.4]c00001j.north);
\draw [arrow] ([xshift=52]c00020.south) -- ([xshift=-21.5]r04863.north);
\draw [arrow] ([xshift=-47]c05535.south) -- ([xshift=25]r04863.north);
\draw [arrow] ([xshift=-23.3]r04863.south) -- ([xshift=53.6]c05560.north);
\draw [arrow] ([xshift=26]r04863.south) -- ([xshift=-21]c11482.north);
\draw [arrow] ([xshift=50]c00013.south) -- ([xshift=-26]r03098.north);
\draw [arrow] ([xshift=-56.4]c05560.south) -- ([xshift=28]r03098.north);
\draw [arrow] ([xshift=-27]r03098.south) -- ([xshift=60]c00002b.north);
\draw [arrow] ([xshift=26]r03098.south) -- ([xshift=-50]c00956.north);
\end{tikzpicture}
\end{document}
